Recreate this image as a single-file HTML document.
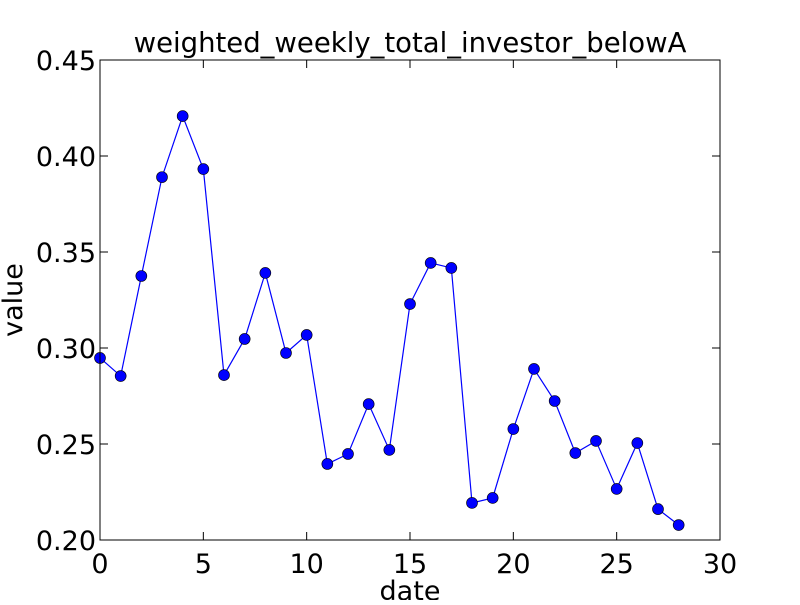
<!DOCTYPE html>
<html><head><meta charset="utf-8"><style>
body{margin:0;background:#fff;}
svg text{font-family:"DejaVu Sans","Liberation Sans",sans-serif;fill:#000;}
</style></head><body>
<svg id="chart" width="800" height="600">
<rect width="800" height="600" fill="#fff"/>
</svg>
<script>
const xValues=[0,1,2,3,4,5,6,7,8,9,10,11,12,13,14,15,16,17,18,19,20,21,22,23,24,25,26,27,28];
const yValues=[0.2948,0.2854,0.3375,0.389,0.4208,0.3932,0.2859,0.3047,0.3391,0.2974,0.3068,0.2396,0.2448,0.2708,0.2469,0.3229,0.3443,0.3417,0.2193,0.2219,0.2578,0.2891,0.2724,0.2453,0.2516,0.2266,0.2505,0.2161,0.2078];
const xTicks=[0,5,10,15,20,25,30];
const yTicks=[0.20,0.25,0.30,0.35,0.40,0.45];
const yTickLabels=["0.20","0.25","0.30","0.35","0.40","0.45"];
const L=100,R=720,T=60,B=540;
const sx=v=>L+(v-0)/(30-0)*(R-L);
const sy=v=>B-(v-0.20)/(0.45-0.20)*(B-T);
const svg=document.getElementById('chart');
const NS='http://www.w3.org/2000/svg';
function mk(tag,attrs,parent){const e=document.createElementNS(NS,tag);for(const k in attrs)e.setAttribute(k,attrs[k]);(parent||svg).appendChild(e);return e;}
let d=xValues.map((x,i)=>(i?'L':'M')+sx(x)+','+sy(yValues[i])).join(' ');
const line=mk('path',{d:d,fill:'none',stroke:'#0000ff','stroke-width':1.2});


xValues.forEach((x,i)=>{
  const c=mk('circle',{cx:sx(x),cy:sy(yValues[i]),r:5.5,fill:'#0000ff',stroke:'#000','stroke-width':0.6});
  
  
});
const fr=mk('rect',{x:L,y:T,width:R-L,height:B-T,fill:'none',stroke:'#000','stroke-width':1});


xTicks.forEach(t=>{
  const x=sx(t);
  mk('line',{x1:x,y1:B,x2:x,y2:B-8,stroke:'#000'});
  mk('line',{x1:x,y1:T,x2:x,y2:T+8,stroke:'#000'});
  const tx=mk('text',{x:x,y:B+33,'text-anchor':'middle','font-size':27});
  tx.textContent=t;
  
  
});
yTicks.forEach((t,i)=>{
  const y=sy(t);
  mk('line',{x1:L,y1:y,x2:L+8,y2:y,stroke:'#000'});
  mk('line',{x1:R,y1:y,x2:R-8,y2:y,stroke:'#000'});
  const tx=mk('text',{x:L-4,y:y+10,'text-anchor':'end','font-size':27});
  tx.textContent=yTickLabels[i];
  
  
});
</script>
<svg width="800" height="600" style="position:absolute;left:0;top:0;pointer-events:none">
<text x="410" y="52" text-anchor="middle" font-size="27.5">weighted_weekly_total_investor_belowA</text>
<text x="410" y="600" text-anchor="middle" font-size="27">date</text>
<text x="22" y="300" text-anchor="middle" font-size="27" transform="rotate(-90 22 300)">value</text>
</svg>
</body></html>
